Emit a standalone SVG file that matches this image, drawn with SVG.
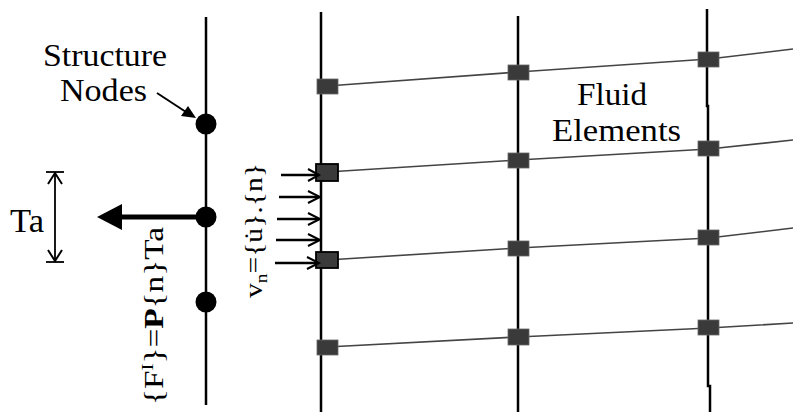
<svg xmlns="http://www.w3.org/2000/svg" width="793" height="412" viewBox="0 0 793 412">
<style>
.t{font-family:'Liberation Serif','DejaVu Serif','Times New Roman',serif;fill:#000}
.lbl{font-size:32px}
.vline{stroke:#000;stroke-width:2.5;fill:none}
.fline{stroke:#444;stroke-width:1.6;fill:none}
.sq{fill:#3a3a3a;stroke:#666;stroke-width:0.8}
.sqb{fill:#3a3a3a;stroke:#000;stroke-width:1.8}
.inarr{stroke:#000;fill:none;stroke-width:2.4}
.vh{stroke:#000;fill:none;stroke-width:2}
</style>

<g id="structure">
<line class="vline" x1="206" y1="17" x2="206" y2="405" stroke-width="3"/>
<circle cx="206" cy="124" r="10.5"/>
<circle cx="206" cy="217" r="10.5"/>
<circle cx="206" cy="302" r="10.5"/>
</g>

<g id="fluid-columns">
<line class="vline" x1="321" y1="12" x2="321" y2="412"/>
<line class="vline" x1="518" y1="16" x2="518" y2="412"/>
<polyline class="vline" points="707,9 707,106 708,106 708,386 710,386 710,412"/>
</g>

<g id="connectors">
<polyline class="fline" points="327,86 518,72 709,59 793,49"/>
<polyline class="fline" points="327,172 518,160 709,149 793,140"/>
<polyline class="fline" points="327,260 518,248 709,238 793,228"/>
<polyline class="fline" points="327,347 518,337 709,328 793,323"/>
</g>

<g id="fluid-nodes">
<rect class="sq" x="317" y="79" width="21" height="15"/>
<rect class="sqb" x="316" y="164" width="22" height="17"/>
<rect class="sqb" x="316" y="252" width="22" height="16"/>
<rect class="sq" x="317" y="340" width="21" height="15"/>
<rect class="sq" x="508" y="65" width="21" height="15"/>
<rect class="sq" x="508" y="153" width="21" height="15"/>
<rect class="sq" x="508" y="241" width="21" height="15"/>
<rect class="sq" x="508" y="329" width="21" height="16"/>
<rect class="sq" x="698" y="52" width="21" height="15"/>
<rect class="sq" x="698" y="141" width="21" height="15"/>
<rect class="sq" x="698" y="230" width="21" height="15"/>
<rect class="sq" x="698" y="320" width="21" height="15"/>
</g>

<g id="structure-label">
<text class="t lbl" x="43" y="66" textLength="124" lengthAdjust="spacingAndGlyphs">Structure</text>
<text class="t lbl" x="60" y="101" textLength="87" lengthAdjust="spacingAndGlyphs">Nodes</text>
<line x1="157" y1="93" x2="186" y2="112" stroke="#000" stroke-width="2"/>
<polygon points="196,118 181,116 188,106"/>
</g>

<g id="fluid-label">
<text class="t lbl" x="577" y="105" textLength="70" lengthAdjust="spacingAndGlyphs">Fluid</text>
<text class="t lbl" x="552" y="141" textLength="129" lengthAdjust="spacingAndGlyphs">Elements</text>
</g>

<g id="force">
<line x1="206" y1="217" x2="118" y2="217" stroke="#000" stroke-width="5"/>
<polygon points="97,217 122,204 122,230"/>
</g>

<g id="ta-dimension">
<line x1="55" y1="172" x2="55" y2="262" stroke="#000" stroke-width="1.8"/>
<path class="vh" d="M48,184 L55,173 L62,184 M48,250 L55,261 L62,250"/>
<line x1="46" y1="172" x2="64" y2="172" stroke="#000" stroke-width="1.8"/>
<line x1="46" y1="262" x2="64" y2="262" stroke="#000" stroke-width="1.8"/>
<text class="t" x="10" y="232" font-size="34" textLength="34" lengthAdjust="spacingAndGlyphs">Ta</text>
</g>

<g id="force-equation">
<text class="t" transform="translate(163,405) rotate(-90)" font-size="27" textLength="178" lengthAdjust="spacingAndGlyphs">{F<tspan font-size="17" dy="-10">I</tspan><tspan dy="10">}=</tspan><tspan font-weight="bold">P</tspan>{n}Ta</text>
</g>

<g id="velocity">
<text class="t" transform="translate(262,298) rotate(-90)" font-size="26" textLength="135" lengthAdjust="spacingAndGlyphs">v<tspan font-size="17" dy="5">n</tspan><tspan dy="-5">={u̇}.{n}</tspan></text>
<line class="inarr" x1="281" y1="175" x2="319" y2="175" stroke-width="1.3"/>
<line class="inarr" x1="279" y1="197" x2="319" y2="197"/>
<line class="inarr" x1="277" y1="219" x2="319" y2="219"/>
<line class="inarr" x1="276" y1="240" x2="319" y2="240"/>
<line class="inarr" x1="275" y1="263" x2="318" y2="263"/>
<path class="vh" d="M308,169 L319,175 L308,181 M308,191 L320,197 L308,203 M308,213 L320,219 L308,225 M308,234 L320,240 L308,246 M307,257 L319,263 L307,269"/>
</g>
</svg>
